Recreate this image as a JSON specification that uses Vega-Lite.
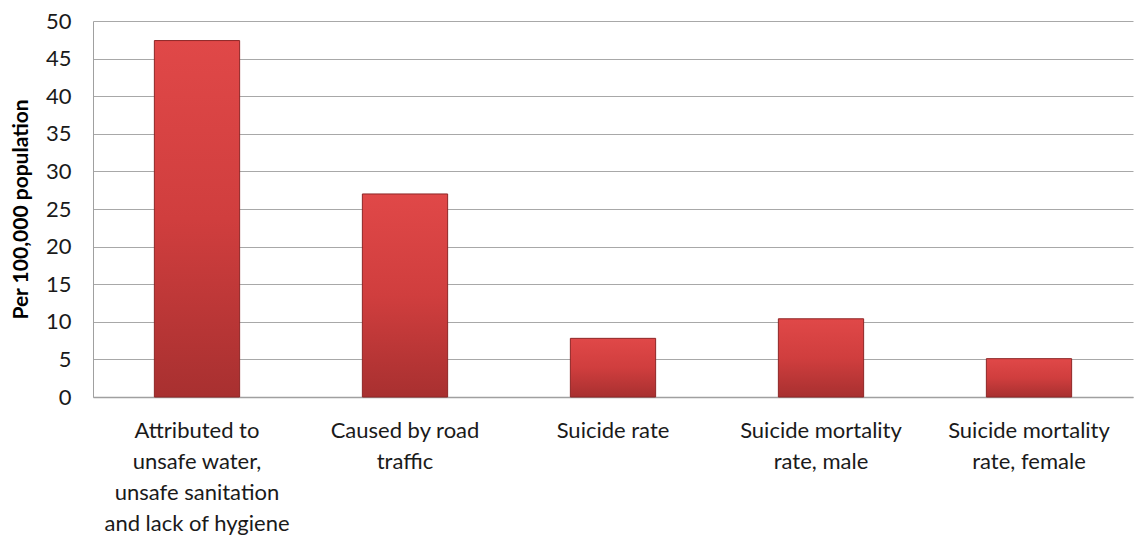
{
  "$schema": "https://vega.github.io/schema/vega-lite/v6.json",
  "autosize": {"type": "none"},
  "width": 1040,
  "height": 376,
  "padding": {"left": 93, "top": 21, "right": 6, "bottom": 140},
  "background": "white",
  "config": {"font": "Lato", "view": {"stroke": null}},
  "data": {
    "values": [
      {"category": "Attributed to|unsafe water,|unsafe sanitation|and lack of hygiene", "value": 47.4},
      {"category": "Caused by road|traffic", "value": 27.0},
      {"category": "Suicide rate", "value": 7.8},
      {"category": "Suicide mortality|rate, male", "value": 10.4},
      {"category": "Suicide mortality|rate, female", "value": 5.1}
    ]
  },
  "mark": {
    "type": "bar",
    "color": {
      "gradient": "linear",
      "x1": 0, "y1": 0, "x2": 0, "y2": 1,
      "stops": [
        {"offset": 0, "color": "#e04848"},
        {"offset": 0.5, "color": "#d03e3e"},
        {"offset": 1, "color": "#a83030"}
      ]
    },
    "stroke": "#8e2626",
    "strokeWidth": 1
  },
  "encoding": {
    "x": {
      "field": "category",
      "type": "nominal",
      "sort": null,
      "scale": {"paddingInner": 0.59, "paddingOuter": 0.295},
      "axis": {
        "title": null,
        "labelAngle": 0,
        "labelExpr": "split(datum.label, '|')",
        "labelFontSize": 22,
        "labelLineHeight": 31,
        "labelColor": "#1a1a1a",
        "labelPadding": 23,
        "labelLimit": 300,
        "ticks": false,
        "domainColor": "#a0a0a0",
        "domainWidth": 1.5
      }
    },
    "y": {
      "field": "value",
      "type": "quantitative",
      "scale": {"domain": [0, 50], "nice": false},
      "axis": {
        "title": "Per 100,000 population",
        "titleFontSize": 21,
        "titleFontWeight": "bold",
        "titleColor": "#000000",
        "titlePadding": 14,
        "values": [0, 5, 10, 15, 20, 25, 30, 35, 40, 45, 50],
        "labelFontSize": 22,
        "labelColor": "#1a1a1a",
        "labelPadding": 22,
        "ticks": false,
        "domainColor": "#a0a0a0",
        "domainWidth": 1,
        "gridColor": "#a8a8a8",
        "gridWidth": 1,
        "gridOpacity": 1
      }
    }
  }
}
